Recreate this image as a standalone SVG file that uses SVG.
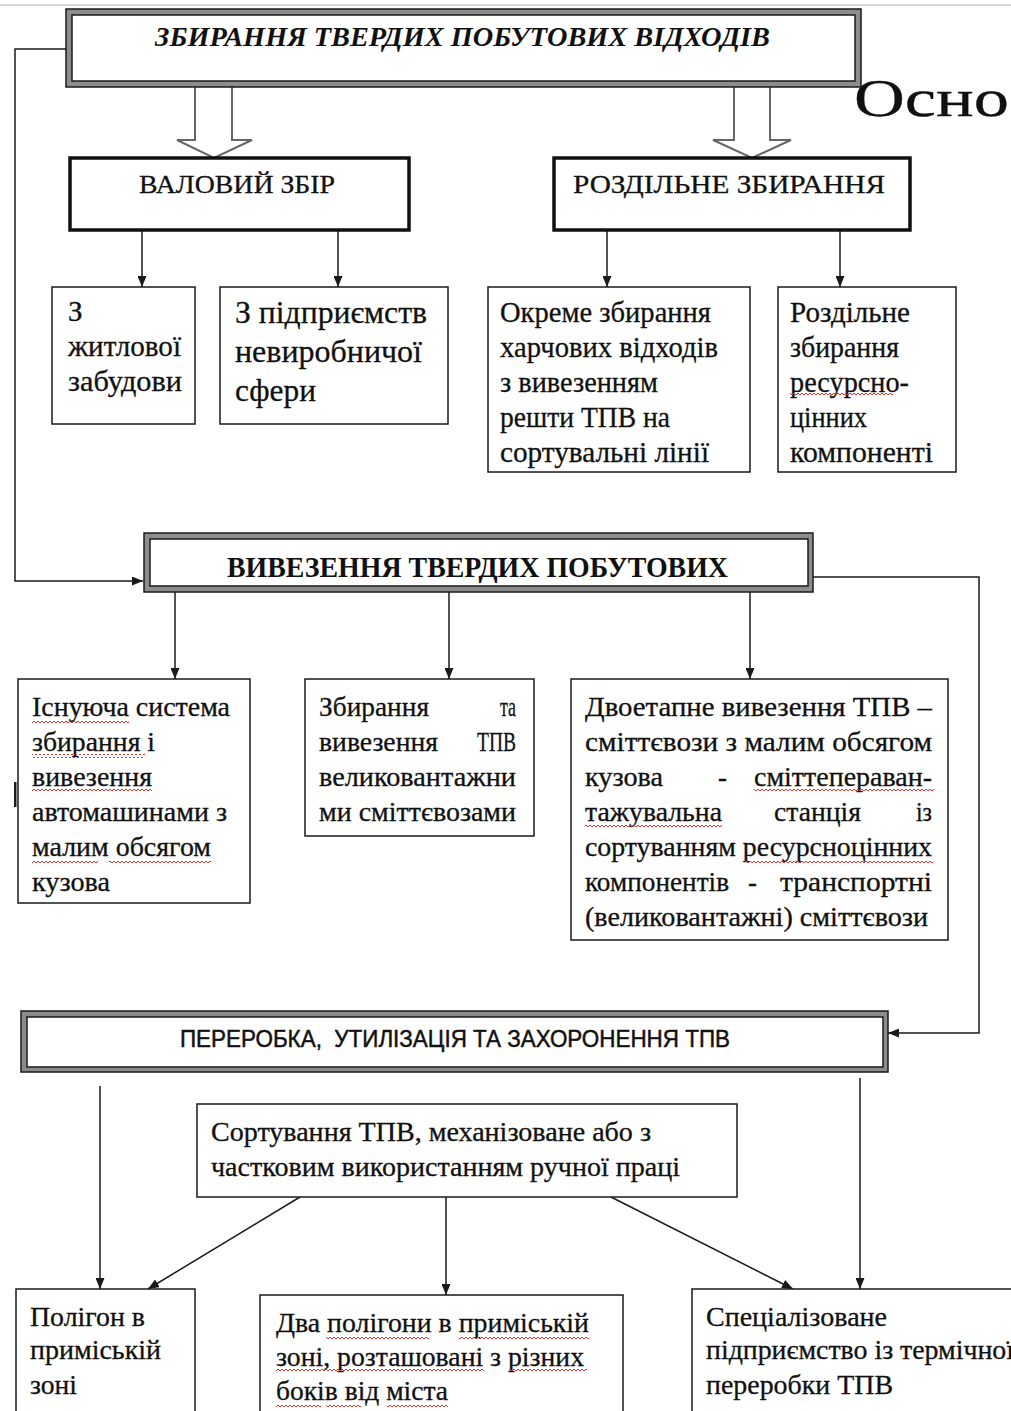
<svg xmlns="http://www.w3.org/2000/svg" width="1011" height="1411" viewBox="0 0 1011 1411">
  <style>
    .serif { font-family: "Liberation Serif", "Times New Roman", serif; fill: #111; stroke: #111; stroke-width: 0.3; }
    .t26 { font-size: 29px; }
    .t25 { font-size: 27px; }
    .t29 { font-size: 32px; }
    .t22 { font-size: 26px; }
    .title { font-family: "Liberation Serif", serif; font-size: 28px; font-weight: bold; font-style: italic; fill: #111; }
    .head { font-family: "Liberation Serif", serif; font-size: 29px; font-weight: bold; fill: #111; }
    .sans { font-family: "Liberation Sans", Arial, sans-serif; font-size: 24px; fill: #111; stroke: #111; stroke-width: 0.5; }
    .frame-out { fill: #8c8c8c; stroke: #1a1a1a; stroke-width: 1.5; }
    .frame-in { fill: #fff; stroke: #1a1a1a; stroke-width: 1.5; }
    .thick { fill: #fff; stroke: #111; stroke-width: 3.5; }
    .box { fill: #fff; stroke: #1a1a1a; stroke-width: 1.5; }
    .arrow { fill: none; stroke: #1a1a1a; stroke-width: 1.5; marker-end: url(#head); }
    .hollow { fill: #fff; stroke: #666; stroke-width: 2; stroke-linejoin: miter; }
    .squiggle { fill: url(#wave); }
  </style>
  <defs>
    <marker id="head" markerUnits="userSpaceOnUse" markerWidth="11" markerHeight="9" refX="11" refY="4.5" orient="auto">
      <path d="M0,0 L11,4.5 L0,9 z" fill="#1a1a1a"/>
    </marker>
    <pattern id="wave" patternUnits="userSpaceOnUse" width="4" height="4">
      <path d="M0,3 L2,1 L4,3" fill="none" stroke="#d9342b" stroke-width="1"/>
    </pattern>
  </defs>

  <rect x="0" y="0" width="1011" height="1411" fill="#fff"/>
  <rect x="0" y="4" width="1011" height="2" fill="#d6d6d6"/>

  <!-- connectors -->
  <g id="connectors">
    <polygon class="hollow" points="195,86 232,86 232,140 252,140 214,158 177,140 195,140"/>
    <polygon class="hollow" points="734,86 770,86 770,140 791,140 752,158 713,140 734,140"/>
    <path class="arrow" d="M66,49 H15 V581 H143"/>
    <path class="arrow" d="M142,231 V287"/>
    <path class="arrow" d="M338,231 V287"/>
    <path class="arrow" d="M607,231 V287"/>
    <path class="arrow" d="M840,231 V287"/>
    <path class="arrow" d="M813,577 H979 V1033 H888"/>
    <path class="arrow" d="M175,592 V679"/>
    <path class="arrow" d="M449,592 V679"/>
    <path class="arrow" d="M750,592 V679"/>
    <path class="arrow" d="M100,1086 V1289"/>
    <path class="arrow" d="M860,1078 V1289"/>
    <path class="arrow" d="M300,1197 L148,1289"/>
    <path class="arrow" d="M446,1197 V1295"/>
    <path class="arrow" d="M611,1197 L793,1289"/>
    <rect x="14" y="782" width="2.5" height="25" fill="#1a1a1a"/>
  </g>

  <!-- collection -->
  <g id="collection">
    <rect class="frame-out" x="66" y="9" width="795" height="78"/>
    <rect class="frame-in" x="72" y="15" width="783" height="66"/>
    <text class="title" x="155" y="46" textLength="615" lengthAdjust="spacingAndGlyphs">ЗБИРАННЯ ТВЕРДИХ ПОБУТОВИХ ВІДХОДІВ</text>
  </g>

  <text class="serif" x="854" y="116" font-size="52" textLength="155" lengthAdjust="spacingAndGlyphs">Осно</text>

  <g id="bulk">
    <rect class="thick" x="70" y="158" width="339" height="72"/>
    <text class="serif t22" x="139" y="193" textLength="196" lengthAdjust="spacingAndGlyphs">ВАЛОВИЙ ЗБІР</text>
  </g>

  <g id="separate">
    <rect class="thick" x="554" y="158" width="356" height="72"/>
    <text class="serif t22" x="573" y="193" textLength="312" lengthAdjust="spacingAndGlyphs">РОЗДІЛЬНЕ ЗБИРАННЯ</text>
  </g>

  <g id="housing">
    <rect class="box" x="52" y="287" width="143" height="137"/>
    <text class="serif t26" x="68" y="321">З</text>
    <text class="serif t26" x="68" y="356" textLength="113" lengthAdjust="spacingAndGlyphs">житлової</text>
    <text class="serif t26" x="68" y="391" textLength="114" lengthAdjust="spacingAndGlyphs">забудови</text>
  </g>

  <g id="enterprises">
    <rect class="box" x="220" y="287" width="228" height="137"/>
    <text class="serif t29" x="235" y="323" textLength="192" lengthAdjust="spacingAndGlyphs">З підприємств</text>
    <text class="serif t29" x="235" y="362" textLength="187" lengthAdjust="spacingAndGlyphs">невиробничої</text>
    <text class="serif t29" x="235" y="401" textLength="81" lengthAdjust="spacingAndGlyphs">сфери</text>
  </g>

  <g id="food-waste">
    <rect class="box" x="488" y="287" width="262" height="185"/>
    <text class="serif t26" x="500" y="322" textLength="211" lengthAdjust="spacingAndGlyphs">Окреме збирання</text>
    <text class="serif t26" x="500" y="357" textLength="218" lengthAdjust="spacingAndGlyphs">харчових відходів</text>
    <text class="serif t26" x="500" y="392" textLength="158" lengthAdjust="spacingAndGlyphs">з вивезенням</text>
    <text class="serif t26" x="500" y="427" textLength="170" lengthAdjust="spacingAndGlyphs">решти ТПВ на</text>
    <text class="serif t26" x="500" y="462" textLength="209" lengthAdjust="spacingAndGlyphs">сортувальні лінії</text>
  </g>

  <g id="resources">
    <rect class="box" x="778" y="287" width="178" height="185"/>
    <text class="serif t26" x="790" y="322" textLength="120" lengthAdjust="spacingAndGlyphs">Роздільне</text>
    <text class="serif t26" x="790" y="357" textLength="109" lengthAdjust="spacingAndGlyphs">збирання</text>
    <text class="serif t26" x="790" y="392" textLength="119" lengthAdjust="spacingAndGlyphs">ресурсно-</text>
    <rect class="squiggle" x="790" y="393" width="103" height="4"/>
    <text class="serif t26" x="790" y="427" textLength="77" lengthAdjust="spacingAndGlyphs">цінних</text>
    <text class="serif t26" x="790" y="462" textLength="143" lengthAdjust="spacingAndGlyphs">компоненті</text>
  </g>

  <!-- removal -->
  <g id="removal">
    <rect class="frame-out" x="144" y="533" width="669" height="59"/>
    <rect class="frame-in" x="150" y="539" width="658" height="47"/>
    <text class="head" x="227" y="577" textLength="501" lengthAdjust="spacingAndGlyphs">ВИВЕЗЕННЯ ТВЕРДИХ ПОБУТОВИХ</text>
  </g>

  <g id="existing-system">
    <rect class="box" x="18" y="679" width="232" height="224"/>
    <text class="serif t25" x="32" y="716" textLength="198" lengthAdjust="spacingAndGlyphs">Існуюча система</text>
    <text class="serif t25" x="32" y="751" textLength="123" lengthAdjust="spacingAndGlyphs">збирання і</text>
    <text class="serif t25" x="32" y="786" textLength="120" lengthAdjust="spacingAndGlyphs">вивезення</text>
    <text class="serif t25" x="32" y="821" textLength="195" lengthAdjust="spacingAndGlyphs">автомашинами з</text>
    <text class="serif t25" x="32" y="856" textLength="179" lengthAdjust="spacingAndGlyphs">малим обсягом</text>
    <text class="serif t25" x="32" y="891" textLength="78" lengthAdjust="spacingAndGlyphs">кузова</text>
    <rect class="squiggle" x="32" y="719" width="97" height="4"/>
    <rect class="squiggle" x="32" y="754" width="113" height="4"/>
    <rect class="squiggle" x="32" y="789" width="120" height="4"/>
    <rect class="squiggle" x="32" y="859" width="66" height="4"/>
    <rect class="squiggle" x="109" y="859" width="102" height="4"/>
  </g>

  <g id="large-trucks">
    <rect class="box" x="305" y="679" width="229" height="157"/>
    <text class="serif t25" x="319" y="716" textLength="110" lengthAdjust="spacingAndGlyphs">Збирання</text>
    <text class="serif t25" x="500" y="716" textLength="16" lengthAdjust="spacingAndGlyphs">та</text>
    <text class="serif t25" x="319" y="751" textLength="119" lengthAdjust="spacingAndGlyphs">вивезення</text>
    <text class="serif t25" x="477" y="751" textLength="39" lengthAdjust="spacingAndGlyphs">ТПВ</text>
    <text class="serif t25" x="319" y="786" textLength="197" lengthAdjust="spacingAndGlyphs">великовантажни</text>
    <text class="serif t25" x="319" y="821" textLength="197" lengthAdjust="spacingAndGlyphs">ми сміттєвозами</text>
  </g>

  <g id="two-stage">
    <rect class="box" x="571" y="679" width="377" height="261"/>
    <text class="serif t25" x="585" y="716" textLength="347" lengthAdjust="spacingAndGlyphs">Двоетапне вивезення ТПВ –</text>
    <text class="serif t25" x="585" y="751" textLength="347" lengthAdjust="spacingAndGlyphs">сміттєвози з малим обсягом</text>
    <text class="serif t25" x="585" y="786" textLength="78" lengthAdjust="spacingAndGlyphs">кузова</text>
    <text class="serif t25" x="718" y="786">-</text>
    <text class="serif t25" x="754" y="786" textLength="178" lengthAdjust="spacingAndGlyphs">сміттеперaван-</text>
    <text class="serif t25" x="585" y="821" textLength="137" lengthAdjust="spacingAndGlyphs">тажувальна</text>
    <text class="serif t25" x="774" y="821" textLength="87" lengthAdjust="spacingAndGlyphs">станція</text>
    <text class="serif t25" x="916" y="821" textLength="16" lengthAdjust="spacingAndGlyphs">із</text>
    <text class="serif t25" x="585" y="856" textLength="347" lengthAdjust="spacingAndGlyphs">сортуванням ресурсноцінних</text>
    <text class="serif t25" x="585" y="891" textLength="144" lengthAdjust="spacingAndGlyphs">компонентів</text>
    <text class="serif t25" x="748" y="891">-</text>
    <text class="serif t25" x="780" y="891" textLength="152" lengthAdjust="spacingAndGlyphs">транспортні</text>
    <text class="serif t25" x="585" y="926" textLength="343" lengthAdjust="spacingAndGlyphs">(великовантажні) сміттєвози</text>
    <rect class="squiggle" x="754" y="789" width="180" height="4"/>
    <rect class="squiggle" x="585" y="824" width="137" height="4"/>
    <rect class="squiggle" x="745" y="859" width="188" height="4"/>
  </g>

  <!-- processing -->
  <g id="processing">
    <rect class="frame-out" x="21" y="1011" width="867" height="61"/>
    <rect class="frame-in" x="27" y="1017" width="856" height="50"/>
    <text class="sans" x="180" y="1047" textLength="550" lengthAdjust="spacingAndGlyphs">ПЕРЕРОБКА,&#160; УТИЛІЗАЦІЯ ТА ЗАХОРОНЕННЯ ТПВ</text>
  </g>

  <g id="sorting">
    <rect class="box" x="197" y="1104" width="540" height="93"/>
    <text class="serif t25" x="211" y="1141" textLength="440" lengthAdjust="spacingAndGlyphs">Сортування ТПВ, механізоване або з</text>
    <text class="serif t25" x="211" y="1176" textLength="469" lengthAdjust="spacingAndGlyphs">частковим використанням ручної праці</text>
  </g>

  <g id="landfill">
    <rect class="box" x="16" y="1289" width="179" height="140"/>
    <text class="serif t25" x="30" y="1326" textLength="115" lengthAdjust="spacingAndGlyphs">Полігон в</text>
    <text class="serif t25" x="30" y="1359" textLength="131" lengthAdjust="spacingAndGlyphs">приміській</text>
    <text class="serif t25" x="30" y="1394" textLength="47" lengthAdjust="spacingAndGlyphs">зоні</text>
  </g>

  <g id="two-landfills">
    <rect class="box" x="260" y="1295" width="363" height="140"/>
    <text class="serif t25" x="276" y="1332" textLength="313" lengthAdjust="spacingAndGlyphs">Два полігони в приміській</text>
    <text class="serif t25" x="276" y="1366" textLength="308" lengthAdjust="spacingAndGlyphs">зоні, розташовані з різних</text>
    <text class="serif t25" x="276" y="1400" textLength="172" lengthAdjust="spacingAndGlyphs">боків від міста</text>
    <rect class="squiggle" x="326" y="1335" width="103" height="4"/>
    <rect class="squiggle" x="459" y="1335" width="130" height="4"/>
    <rect class="squiggle" x="276" y="1369" width="208" height="4"/>
    <rect class="squiggle" x="509" y="1369" width="78" height="4"/>
    <rect class="squiggle" x="276" y="1403" width="45" height="4"/>
    <rect class="squiggle" x="326" y="1403" width="35" height="4"/>
    <rect class="squiggle" x="387" y="1403" width="61" height="4"/>
  </g>

  <g id="thermal">
    <rect class="box" x="692" y="1289" width="340" height="140"/>
    <text class="serif t25" x="706" y="1326" textLength="181" lengthAdjust="spacingAndGlyphs">Спеціалізоване</text>
    <text class="serif t25" x="706" y="1359" textLength="308" lengthAdjust="spacingAndGlyphs">підприємство із термічної</text>
    <text class="serif t25" x="706" y="1394" textLength="187" lengthAdjust="spacingAndGlyphs">переробки ТПВ</text>
  </g>
</svg>
